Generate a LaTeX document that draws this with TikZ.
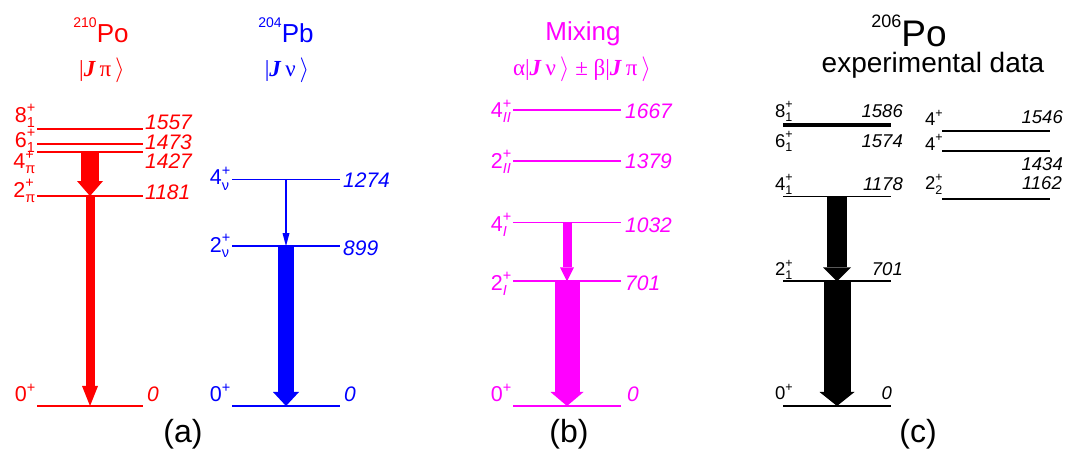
\documentclass[tikz,border=0pt]{standalone}
\usepackage{amsmath}
\usepackage{fontspec}
\setmainfont{Liberation Sans}
\newfontfamily\serifgr{Liberation Serif}
\usetikzlibrary{arrows.meta}
\definecolor{pored}{RGB}{255,0,0}
\definecolor{pbblue}{RGB}{0,0,255}
\definecolor{mixmag}{RGB}{255,0,255}
\def\spsize{13}
\tikzset{
  level/.style={line width=1.8pt},
  elab/.style={inner sep=0pt, font=\fontsize{21}{22}\selectfont\itshape},
  slab/.style={inner sep=0pt, font=\fontsize{21.5}{22}\selectfont\def\spsize{14.5}},
  eblk/.style={inner sep=0pt, font=\fontsize{18.5}{20}\selectfont\itshape},
  sblk/.style={inner sep=0pt, font=\fontsize{18.5}{20}\selectfont\def\spsize{12.5}},
  title/.style={inner sep=0pt, font=\fontsize{26}{28}\selectfont},
  ket/.style={inner sep=0pt, font=\fontsize{23}{24}\selectfont\serifgr},
  tag/.style={inner sep=0pt, font=\fontsize{32}{34}\selectfont},
  gamma/.style n args={3}{line width=#1, -{Triangle[width=#2, length=#3, line width=0pt]}}
}
\newcommand{\sm}[1]{\text{\fontsize{\spsize}{\spsize}\selectfont #1}}
\newcommand{\spn}[2]{$\text{#1}^{\sm{+}}_{\sm{#2}}$}
\newcommand{\gs}[1]{$\text{#1}^{\sm{+}}$}
\newcommand{\iso}[4]{\raisebox{#3}{\fontsize{#4}{#4}\selectfont #1}#2}

\begin{document}
\begin{tikzpicture}[x=1pt, y=1pt]
  \useasboundingbox (0,0) rectangle (1069,450);

  % (a) 210Po, proton configuration
  \node[title, pored, anchor=base] (potitle) at (101,407) {\iso{210}{Po}{15pt}{14}};
  \node[ket, pored, anchor=base] (poket) at (102,373) {|\textbf{\textit{J}}\,π\,$\rangle$};
  \begin{scope}[pored, shift={(0,44)}, y=0.1778pt]
    \draw[level] (37,1557) -- (143,1557);
    \draw[level] (37,1473) -- (143,1473);
    \draw[level] (37,1427) -- (143,1427);
    \draw[level] (37,1181) -- (143,1181);
    \draw[level] (37,0) -- (143,0);
    \node[elab, anchor=base west] (r8e) at (145,1557) {1557};
    \node[elab, anchor=base west, yshift=-5.5pt] (r6e) at (145,1473) {1473};
    \node[elab, anchor=base west, yshift=-16.5pt] (r4e) at (145,1427) {1427};
    \node[elab, anchor=base west, yshift=-3pt] (r2e) at (145,1181) {1181};
    \node[elab, anchor=base west, yshift=4pt] (r0e) at (147,0) {0};
    \node[slab, anchor=base east, yshift=7pt] (r8s) at (36,1557) {\spn{8}{1}};
    \node[slab, anchor=base east, yshift=-3pt] (r6s) at (36,1473) {\spn{6}{1}};
    \node[slab, anchor=base east, yshift=-16pt] (r4s) at (36,1427) {\spn{4}{π}};
    \node[slab, anchor=base east, yshift=-1pt] (r2s) at (36,1181) {\spn{2}{π}};
    \node[slab, anchor=base east, yshift=4pt] (r0s) at (36,0) {\gs{0}};
    \coordinate (r4) at (90,1427);
    \coordinate (r2) at (90,1181);
    \coordinate (r0) at (90,0);
    \draw[gamma={18pt}{26pt}{15pt}] (r4) -- (r2);
    \draw[gamma={9pt}{16pt}{20pt}] (r2) -- (r0);
  \end{scope}

  % (a) 204Pb, neutron configuration
  \node[title, pbblue, anchor=base] (pbtitle) at (286,407) {\iso{204}{Pb}{15pt}{14}};
  \node[ket, pbblue, anchor=base] (pbket) at (287,373) {|\textbf{\textit{J}}\,ν\,$\rangle$};
  \begin{scope}[pbblue, shift={(0,44)}, y=0.1778pt]
    \draw[level] (232,1274) -- (340,1274);
    \draw[level] (232,899) -- (340,899);
    \draw[level] (232,0) -- (340,0);
    \node[elab, anchor=base west, yshift=-8.5pt] (b4e) at (343,1274) {1274};
    \node[elab, anchor=base west, yshift=-9pt] (b2e) at (343,899) {899};
    \node[elab, anchor=base west, yshift=4pt] (b0e) at (344,0) {0};
    \node[slab, anchor=base east, yshift=-5.5pt] (b4s) at (231,1274) {\spn{4}{ν}};
    \node[slab, anchor=base east, yshift=-6pt] (b2s) at (231,899) {\spn{2}{ν}};
    \node[slab, anchor=base east, yshift=4pt] (b0s) at (231,0) {\gs{0}};
    \coordinate (b4) at (286,1274);
    \coordinate (b2) at (286,899);
    \coordinate (b0) at (286,0);
    \draw[gamma={1.5pt}{7pt}{13pt}] (b4) -- (b2);
    \draw[gamma={16pt}{26pt}{14pt}] (b2) -- (b0);
  \end{scope}
  \node[tag, anchor=base] (taga) at (183,7) {(a)};

  % (b) mixed states
  \node[title, mixmag, anchor=base] (mixtitle) at (583,409) {Mixing};
  \node[ket, mixmag, anchor=base] (mixket) at (582,374)
    {α|\textbf{\textit{J}}\,ν\,$\rangle$ ± β|\textbf{\textit{J}}\,π\,$\rangle$};
  \begin{scope}[mixmag, shift={(0,44)}, y=0.1778pt]
    \draw[level] (513,1667) -- (621,1667);
    \draw[level] (513,1379) -- (621,1379);
    \draw[level] (513,1032) -- (621,1032);
    \draw[level] (513,701) -- (621,701);
    \draw[level] (513,0) -- (621,0);
    \node[elab, anchor=base west, yshift=-9pt] (m4be) at (625,1667) {1667};
    \node[elab, anchor=base west, yshift=-7.5pt] (m2be) at (625,1379) {1379};
    \node[elab, anchor=base west, yshift=-9.5pt] (m4ae) at (625,1032) {1032};
    \node[elab, anchor=base west, yshift=-9pt] (m2ae) at (625,701) {701};
    \node[elab, anchor=base west, yshift=4pt] (m0e) at (627,0) {0};
    \node[slab, anchor=base east, yshift=-8pt] (m4bs) at (512,1667) {\spn{4}{\itshape II}};
    \node[slab, anchor=base east, yshift=-7.5pt] (m2bs) at (512,1379) {\spn{2}{\itshape II}};
    \node[slab, anchor=base east, yshift=-8.5pt] (m4as) at (512,1032) {\spn{4}{\itshape I}};
    \node[slab, anchor=base east, yshift=-9pt] (m2as) at (512,701) {\spn{2}{\itshape I}};
    \node[slab, anchor=base east, yshift=4pt] (m0s) at (512,0) {\gs{0}};
    \coordinate (m4) at (567,1032);
    \coordinate (m2) at (567,701);
    \coordinate (m0) at (567,0);
    \draw[gamma={9pt}{14pt}{14pt}] (m4) -- (m2);
    \draw[gamma={25pt}{33pt}{14pt}] (m2) -- (m0);
  \end{scope}
  \node[tag, anchor=base] (tagb) at (569,7) {(b)};

  % (c) 206Po experiment
  \node[inner sep=0pt, font=\fontsize{37}{38}\selectfont, anchor=base] (exptitle) at (909,403) {\iso{206}{Po}{19pt}{18}};
  \node[inner sep=0pt, font=\fontsize{28}{30}\selectfont, anchor=base] (expsub) at (933,377) {experimental data};
  \begin{scope}[shift={(0,44)}, y=0.1778pt]
    \draw[level] (783,1586) -- (891,1586);
    \draw[level] (783,1574) -- (891,1574);
    \draw[level] (783,1178) -- (891,1178);
    \draw[level] (783,701) -- (891,701);
    \draw[level] (783,0) -- (891,0);
    \node[eblk, anchor=base east, yshift=7pt] (x8e) at (903,1586) {1586};
    \node[eblk, anchor=base east, yshift=-21pt] (x6e) at (903,1574) {1574};
    \node[eblk, anchor=base east, yshift=6.5pt] (x4e) at (903,1178) {1178};
    \node[eblk, anchor=base east, yshift=6pt] (x2e) at (903,701) {701};
    \node[eblk, anchor=base east, yshift=6pt] (x0e) at (892,0) {0};
    \node[sblk, anchor=base west, yshift=7pt] (x8s) at (775,1586) {\spn{8}{1}};
    \node[sblk, anchor=base west, yshift=-21pt] (x6s) at (775,1574) {\spn{6}{1}};
    \node[sblk, anchor=base west, yshift=6.5pt] (x4s) at (775,1178) {\spn{4}{1}};
    \node[sblk, anchor=base west, yshift=6pt] (x2s) at (775,701) {\spn{2}{1}};
    \node[sblk, anchor=base west, yshift=6pt] (x0s) at (775,0) {\gs{0}};
    \draw[level] (942,1546) -- (1050,1546);
    \draw[level] (942,1434) -- (1050,1434);
    \draw[level] (942,1162) -- (1050,1162);
    \node[eblk, anchor=base east, yshift=8pt] (y4be) at (1063,1546) {1546};
    \node[eblk, anchor=base east, yshift=-19pt] (y4ae) at (1063,1434) {1434};
    \node[eblk, anchor=base east, yshift=9.4pt] (y2e) at (1062,1162) {1162};
    \node[sblk, anchor=base west, yshift=6pt] (y4bs) at (925,1546) {\gs{4}};
    \node[sblk, anchor=base west, yshift=1pt] (y4as) at (925,1434) {\gs{4}};
    \node[sblk, anchor=base west, yshift=9.4pt] (y2s) at (925,1162) {\spn{2}{2}};
    \coordinate (x4) at (837,1178);
    \coordinate (x2) at (837,701);
    \coordinate (x0) at (837,0);
    \draw[gamma={20pt}{28pt}{14pt}] (x4) -- (x2);
    \draw[gamma={27pt}{35pt}{14pt}] (x2) -- (x0);
  \end{scope}
  \node[tag, anchor=base] (tagc) at (918,7) {(c)};
\end{tikzpicture}
\end{document}
